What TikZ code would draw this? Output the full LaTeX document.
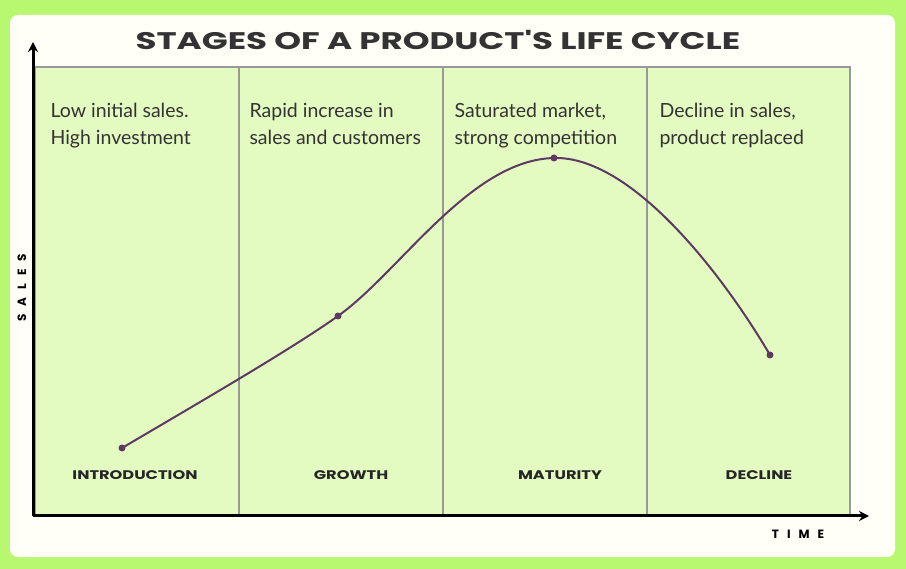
\documentclass[tikz,border=0pt]{standalone}
\usepackage{fontspec}
\setmainfont{Lato}
\newfontfamily\headf{Poppins}
\begin{document}
\begin{tikzpicture}[x=1pt,y=-1pt,
  panel/.style={fill=panelc,draw=gray!80,line width=1.5pt},
  stage/.style={font=\headf\bfseries\fontsize{12.5}{14}\selectfont,anchor=center,xscale=1.3,text=black!85},
  desc/.style={font=\fontsize{19.5}{27}\selectfont,anchor=north west,align=left,text=black!80},
  dot/.style={circle,fill=curvec,inner sep=0pt,minimum size=7pt},
  ax/.style={line width=3pt,-{Stealth[length=10pt,width=10pt]}}]
\definecolor{panelc}{HTML}{E3FBC0}
\definecolor{curvec}{HTML}{5E3A63}
\definecolor{outer}{HTML}{B8F870}
\usetikzlibrary{arrows.meta}
\fill[outer] (0,0) rectangle (906,569);
\fill[white!97!yellow,rounded corners=8pt] (10,15) rectangle (895,557);
\useasboundingbox (0,0) rectangle (906,569);
\foreach \a/\b in {35/239,239/443,443/647,647/850}
  \draw[panel] (\a,67) rectangle (\b,515);
\node[font=\headf\bfseries\fontsize{24}{28}\selectfont,xscale=1.42,text=black!80] (title) at (438,40) {STAGES OF A PRODUCT'S LIFE CYCLE};
\node[desc] (d1) at (47,100) {Low initial sales.\\High investment};
\node[desc] (d2) at (246,100) {Rapid increase in\\sales and customers};
\node[desc] (d3) at (451,100) {Saturated market,\\strong competition};
\node[desc] (d4) at (656,100) {Decline in sales,\\product replaced};
\node[stage] (s1) at (135,475) {INTRODUCTION};
\node[stage] (s2) at (351,475) {GROWTH};
\node[stage] (s3) at (560,475) {MATURITY};
\node[stage] (s4) at (759,475) {DECLINE};
\coordinate (o) at (33,516);
\coordinate (yt) at (33,42);
\coordinate (xt) at (869,516);
\draw[ax] (o) -- (yt);
\draw[ax] (o) -- (xt);
\node[font=\headf\bfseries\fontsize{12}{14}\selectfont,rotate=90] (sales) at (22,288) {S\,\,\,\,A\,\,\,\,L\,\,\,\,E\,\,\,\,S};
\node[font=\headf\bfseries\fontsize{12}{14}\selectfont] (time) at (798,534) {T\,\,\,\,I\,\,\,\,M\,\,\,\,E};
\node[dot] (p1) at (122,448) {};
\node[dot] (p2) at (338,316) {};
\node[dot] (p3) at (554,158) {};
\node[dot] (p4) at (770,355) {};
\draw[curvec,line width=2pt] (p1.center) .. controls (200,402) and (290,350) .. (p2.center)
  .. controls (400,272) and (470,160) .. (p3.center)
  .. controls (630,156) and (720,270) .. (p4.center);
\end{tikzpicture}
\end{document}
